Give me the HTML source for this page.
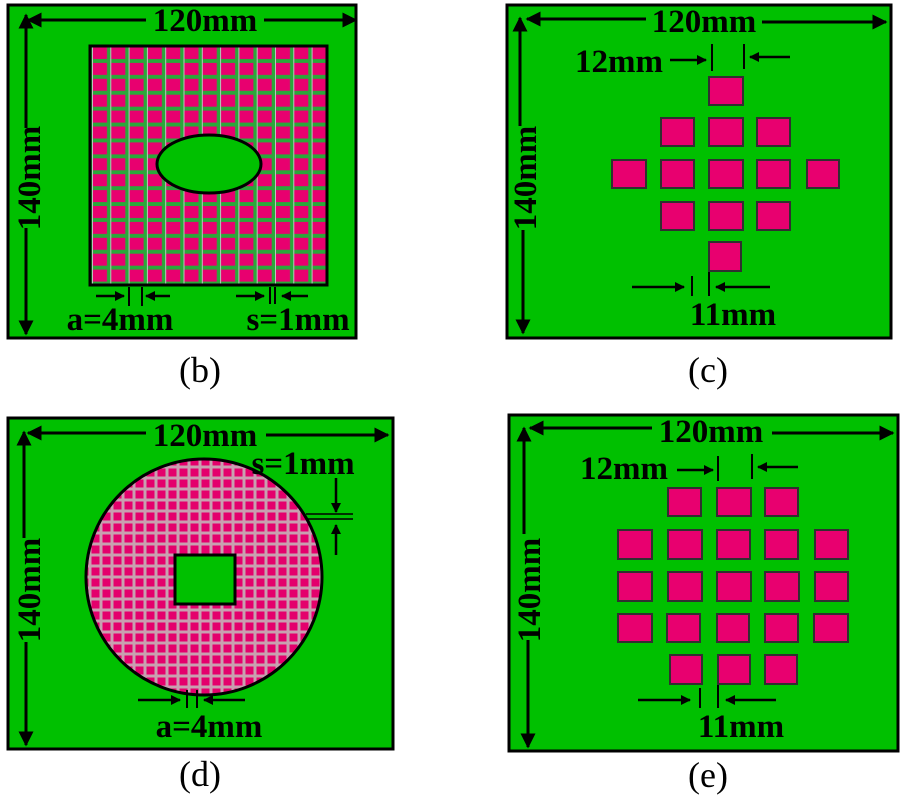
<!DOCTYPE html>
<html><head><style>
html,body{margin:0;padding:0;background:#fff;}
svg{display:block;}
text{font-family:"Liberation Serif",serif;font-weight:bold;fill:#000;}
.cap{font-weight:normal;font-size:36px;}
</style></head><body>
<svg width="900" height="800" viewBox="0 0 900 800" xmlns="http://www.w3.org/2000/svg">
<defs>
<marker id="ah" viewBox="0 0 10 10" refX="9" refY="5" markerWidth="6" markerHeight="5" orient="auto-start-reverse" markerUnits="strokeWidth"><path d="M0,0 L10,5 L0,10 z" fill="#000"/></marker>
<marker id="as" viewBox="0 0 10 10" refX="9" refY="5" markerWidth="4" markerHeight="4" orient="auto-start-reverse" markerUnits="strokeWidth"><path d="M0,0 L10,5 L0,10 z" fill="#000"/></marker>
<pattern id="gb" x="92" y="47" width="18.3" height="15.9" patternUnits="userSpaceOnUse">
<rect width="18.3" height="15.9" fill="#2aa83a"/>
<rect x="0" y="0" width="1" height="15.9" fill="#c0c0c0"/>
<rect x="1" y="0" width="14" height="12" fill="#e8006f"/>
</pattern>
<pattern id="gd" x="90" y="467" width="11" height="11" patternUnits="userSpaceOnUse">
<rect width="11" height="11" fill="#c8a0b0"/>
<rect x="1.5" y="1.5" width="8" height="8" fill="#e4006c"/>
</pattern>
</defs>

<!-- Panel b -->
<rect x="8" y="5" width="348" height="333" fill="#00c000" stroke="#000" stroke-width="3"/>
<rect x="90" y="46" width="237" height="239" fill="url(#gb)" stroke="#000" stroke-width="3"/>
<ellipse cx="209" cy="164" rx="52" ry="29" fill="#00c000" stroke="#000" stroke-width="3"/>
<line x1="28" y1="20" x2="146" y2="20" stroke="#000" stroke-width="3" marker-start="url(#ah)"/>
<line x1="264" y1="20" x2="356" y2="20" stroke="#000" stroke-width="3" marker-end="url(#ah)"/>
<text x="205" y="31" font-size="33" text-anchor="middle">120mm</text>
<line x1="26" y1="15" x2="26" y2="128" stroke="#000" stroke-width="3" marker-start="url(#ah)"/>
<line x1="26" y1="228" x2="26" y2="334" stroke="#000" stroke-width="3" marker-end="url(#ah)"/>
<text transform="translate(40,178) rotate(-90)" font-size="33" text-anchor="middle">140mm</text>
<line x1="96" y1="296" x2="124" y2="296" stroke="#000" stroke-width="2.5" marker-end="url(#as)"/>
<line x1="170" y1="296" x2="146" y2="296" stroke="#000" stroke-width="2.5" marker-end="url(#as)"/>
<line x1="129" y1="287" x2="129" y2="306" stroke="#000" stroke-width="2"/>
<line x1="142" y1="287" x2="142" y2="306" stroke="#000" stroke-width="2"/>
<line x1="236" y1="296" x2="264" y2="296" stroke="#000" stroke-width="2.5" marker-end="url(#as)"/>
<line x1="308" y1="296" x2="282" y2="296" stroke="#000" stroke-width="2.5" marker-end="url(#as)"/>
<line x1="270" y1="287" x2="270" y2="304" stroke="#000" stroke-width="2"/>
<line x1="275" y1="287" x2="275" y2="304" stroke="#000" stroke-width="2"/>
<text x="120" y="330" font-size="33" text-anchor="middle">a=4mm</text>
<text x="298" y="330" font-size="33" text-anchor="middle">s=1mm</text>
<text class="cap" x="200" y="382" text-anchor="middle">(b)</text>

<!-- Panel c -->
<rect x="507" y="5" width="384" height="333" fill="#00c000" stroke="#000" stroke-width="3"/>
<g fill="#e8006f" stroke="#303030" stroke-width="2">
<rect x="709" y="77" width="34" height="28"/>
<rect x="661" y="118" width="33" height="28"/><rect x="709" y="118" width="34" height="28"/><rect x="757" y="118" width="33" height="28"/>
<rect x="612" y="160" width="34" height="28"/><rect x="661" y="160" width="33" height="28"/><rect x="709" y="160" width="34" height="28"/><rect x="757" y="160" width="33" height="28"/><rect x="807" y="160" width="32" height="28"/>
<rect x="661" y="202" width="33" height="28"/><rect x="709" y="202" width="34" height="28"/><rect x="757" y="202" width="33" height="28"/>
<rect x="709" y="242" width="32" height="29"/>
</g>
<line x1="527" y1="19" x2="646" y2="19" stroke="#000" stroke-width="3" marker-start="url(#ah)"/>
<line x1="762" y1="22" x2="886" y2="22" stroke="#000" stroke-width="3" marker-end="url(#ah)"/>
<text x="704" y="32" font-size="33" text-anchor="middle">120mm</text>
<line x1="520" y1="18" x2="520" y2="126" stroke="#000" stroke-width="3" marker-start="url(#ah)"/>
<line x1="523" y1="230" x2="523" y2="333" stroke="#000" stroke-width="3" marker-end="url(#ah)"/>
<text transform="translate(536,178) rotate(-90)" font-size="33" text-anchor="middle">140mm</text>
<text x="619" y="72" font-size="33" text-anchor="middle">12mm</text>
<line x1="670" y1="60" x2="706" y2="60" stroke="#000" stroke-width="2.5" marker-end="url(#as)"/>
<line x1="790" y1="57" x2="750" y2="57" stroke="#000" stroke-width="2.5" marker-end="url(#as)"/>
<line x1="712" y1="44" x2="712" y2="71" stroke="#000" stroke-width="2"/>
<line x1="744" y1="44" x2="744" y2="69" stroke="#000" stroke-width="2"/>
<line x1="632" y1="287" x2="684" y2="287" stroke="#000" stroke-width="2.5" marker-end="url(#as)"/>
<line x1="770" y1="287" x2="716" y2="287" stroke="#000" stroke-width="2.5" marker-end="url(#as)"/>
<line x1="692" y1="276" x2="692" y2="296" stroke="#000" stroke-width="2"/>
<line x1="709" y1="272" x2="709" y2="296" stroke="#000" stroke-width="2"/>
<text x="733" y="325" font-size="33" text-anchor="middle">11mm</text>
<text class="cap" x="708" y="382" text-anchor="middle">(c)</text>

<!-- Panel d -->
<rect x="8" y="418" width="385" height="331" fill="#00c000" stroke="#000" stroke-width="3"/>
<circle cx="204" cy="577" r="118" fill="url(#gd)" stroke="#000" stroke-width="3"/>
<rect x="175" y="555" width="60" height="49" fill="#00c000" stroke="#000" stroke-width="3"/>
<line x1="28" y1="433" x2="146" y2="433" stroke="#000" stroke-width="3" marker-start="url(#ah)"/>
<line x1="266" y1="435" x2="388" y2="435" stroke="#000" stroke-width="3" marker-end="url(#ah)"/>
<text x="205" y="446" font-size="33" text-anchor="middle">120mm</text>
<line x1="24" y1="432" x2="24" y2="538" stroke="#000" stroke-width="3" marker-start="url(#ah)"/>
<line x1="26" y1="642" x2="26" y2="745" stroke="#000" stroke-width="3" marker-end="url(#ah)"/>
<text transform="translate(40,590) rotate(-90)" font-size="33" text-anchor="middle">140mm</text>
<text x="303" y="474" font-size="33" text-anchor="middle">s=1mm</text>
<line x1="336" y1="478" x2="336" y2="512" stroke="#000" stroke-width="2.5" marker-end="url(#as)"/>
<line x1="336" y1="555" x2="336" y2="525" stroke="#000" stroke-width="2.5" marker-end="url(#as)"/>
<line x1="306" y1="514" x2="353" y2="514" stroke="#000" stroke-width="1.5"/>
<line x1="306" y1="519" x2="353" y2="519" stroke="#000" stroke-width="1.5"/>
<line x1="138" y1="700" x2="180" y2="700" stroke="#000" stroke-width="2.5" marker-end="url(#as)"/>
<line x1="245" y1="700" x2="204" y2="700" stroke="#000" stroke-width="2.5" marker-end="url(#as)"/>
<line x1="187" y1="690" x2="187" y2="708" stroke="#000" stroke-width="2"/>
<line x1="197" y1="690" x2="197" y2="708" stroke="#000" stroke-width="2"/>
<text x="209" y="737" font-size="33" text-anchor="middle">a=4mm</text>
<text class="cap" x="200" y="786" text-anchor="middle">(d)</text>

<!-- Panel e -->
<rect x="509" y="415" width="389" height="336" fill="#00c000" stroke="#000" stroke-width="3"/>
<g fill="#e8006f" stroke="#303030" stroke-width="2">
<rect x="668" y="488" width="33" height="28"/><rect x="717" y="488" width="34" height="28"/><rect x="765" y="488" width="33" height="28"/>
<rect x="618" y="530" width="34" height="29"/><rect x="668" y="530" width="34" height="29"/><rect x="717" y="530" width="33" height="29"/><rect x="765" y="530" width="33" height="29"/><rect x="815" y="530" width="33" height="29"/>
<rect x="618" y="572" width="34" height="29"/><rect x="668" y="572" width="34" height="29"/><rect x="717" y="572" width="34" height="29"/><rect x="765" y="572" width="34" height="29"/><rect x="815" y="572" width="33" height="29"/>
<rect x="618" y="614" width="34" height="28"/><rect x="667" y="614" width="33" height="28"/><rect x="717" y="614" width="32" height="28"/><rect x="765" y="614" width="33" height="28"/><rect x="814" y="614" width="34" height="28"/>
<rect x="670" y="655" width="32" height="29"/><rect x="718" y="655" width="32" height="29"/><rect x="765" y="655" width="32" height="29"/>
</g>
<line x1="530" y1="428" x2="652" y2="428" stroke="#000" stroke-width="3" marker-start="url(#ah)"/>
<line x1="772" y1="433" x2="893" y2="433" stroke="#000" stroke-width="3" marker-end="url(#ah)"/>
<text x="711" y="442" font-size="33" text-anchor="middle">120mm</text>
<line x1="524" y1="428" x2="524" y2="534" stroke="#000" stroke-width="3" marker-start="url(#ah)"/>
<line x1="528" y1="640" x2="528" y2="747" stroke="#000" stroke-width="3" marker-end="url(#ah)"/>
<text transform="translate(540,590) rotate(-90)" font-size="33" text-anchor="middle">140mm</text>
<text x="624" y="479" font-size="33" text-anchor="middle">12mm</text>
<line x1="677" y1="470" x2="713" y2="470" stroke="#000" stroke-width="2.5" marker-end="url(#as)"/>
<line x1="798" y1="467" x2="758" y2="467" stroke="#000" stroke-width="2.5" marker-end="url(#as)"/>
<line x1="718" y1="456" x2="718" y2="481" stroke="#000" stroke-width="2"/>
<line x1="752" y1="454" x2="752" y2="479" stroke="#000" stroke-width="2"/>
<line x1="638" y1="700" x2="690" y2="700" stroke="#000" stroke-width="2.5" marker-end="url(#as)"/>
<line x1="776" y1="700" x2="726" y2="700" stroke="#000" stroke-width="2.5" marker-end="url(#as)"/>
<line x1="700" y1="688" x2="700" y2="708" stroke="#000" stroke-width="2"/>
<line x1="718" y1="685" x2="718" y2="708" stroke="#000" stroke-width="2"/>
<text x="741" y="737" font-size="33" text-anchor="middle">11mm</text>
<text class="cap" x="708" y="787" text-anchor="middle">(e)</text>
</svg>
</body></html>
